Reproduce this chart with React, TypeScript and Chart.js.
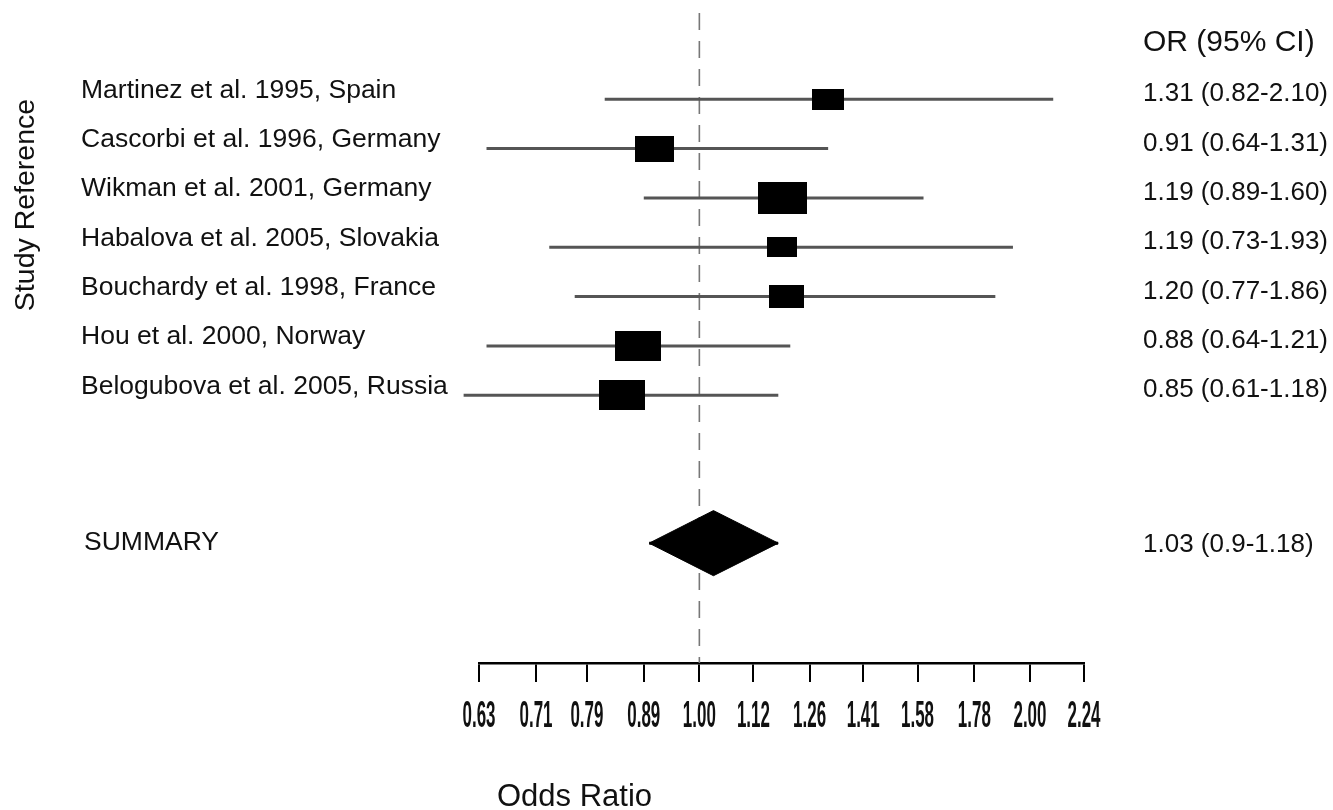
import React, { useEffect, useRef } from 'react';
import { Chart, registerables } from 'chart.js';

Chart.register(...registerables);

// ---------- data ----------
const studies = [
  'Martinez et al. 1995, Spain',
  'Cascorbi et al. 1996, Germany',
  'Wikman et al. 2001, Germany',
  'Habalova et al. 2005, Slovakia',
  'Bouchardy et al. 1998, France',
  'Hou et al. 2000, Norway',
  'Belogubova et al. 2005, Russia',
];
const oddsRatios = [1.31, 0.91, 1.19, 1.19, 1.2, 0.88, 0.85];
const ciLower = [0.82, 0.64, 0.89, 0.73, 0.77, 0.64, 0.61];
const ciUpper = [2.1, 1.31, 1.6, 1.93, 1.86, 1.21, 1.18];
const studyWeights = [8.8, 13.5, 21.2, 8.0, 10.9, 18.7, 18.9];
const orLabels = [
  '1.31 (0.82-2.10)',
  '0.91 (0.64-1.31)',
  '1.19 (0.89-1.60)',
  '1.19 (0.73-1.93)',
  '1.20 (0.77-1.86)',
  '0.88 (0.64-1.21)',
  '0.85 (0.61-1.18)',
];
const summaryName = 'SUMMARY';
const summaryOR = 1.03;
const summaryLower = 0.9;
const summaryUpper = 1.18;
const summaryLabel = '1.03 (0.9-1.18)';
const xTickValues = [0.63, 0.71, 0.79, 0.89, 1.0, 1.12, 1.26, 1.41, 1.58, 1.78, 2.0, 2.24];
const xTickLabels = ['0.63', '0.71', '0.79', '0.89', '1.00', '1.12', '1.26', '1.41', '1.58', '1.78', '2.00', '2.24'];
const headerLabel = 'OR (95% CI)';
const xTitle = 'Odds Ratio';
const yTitle = 'Study Reference';

// ---------- layout constants ----------
const W = 1333;
const H = 810;
const Y_MIN = -1.75;
const Y_MAX = 11.43;
const SUMMARY_ROW = studies.length + 2;
const DIAMOND_HALF = 0.66;
const SEAM = 0.03;
const BOX_AREA_SCALE = 7388; // px^2 for 100% weight
const BOX_ASPECT = 1.53;
const FONT = '"Liberation Sans", Arial, Helvetica, sans-serif';

function makeBox(weight: number): HTMLCanvasElement {
  const area = (weight / 100) * BOX_AREA_SCALE;
  const h = Math.sqrt(area / BOX_ASPECT);
  const w = h * BOX_ASPECT;
  const c = document.createElement('canvas');
  c.width = Math.round(w);
  c.height = Math.round(h);
  const g = c.getContext('2d')!;
  g.fillStyle = '#000';
  g.fillRect(0, 0, c.width, c.height);
  return c;
}

const textPlugin = {
  id: 'forestText',
  afterDraw(chart: any) {
    const { ctx } = chart;
    const x = chart.scales.x;
    const y = chart.scales.y;
    ctx.save();
    ctx.fillStyle = '#111';

    // study labels
    ctx.font = `26.5px ${FONT}`;
    ctx.textAlign = 'left';
    ctx.textBaseline = 'middle';
    studies.forEach((s, i) => {
      ctx.fillText(s, 81, y.getPixelForValue(i) - 9);
    });
    ctx.font = `26.5px ${FONT}`;
    ctx.fillText(summaryName, 84, y.getPixelForValue(SUMMARY_ROW));

    // right column
    ctx.font = `30px ${FONT}`;
    ctx.fillText(headerLabel, 1143, y.getPixelForValue(-1.2) + 3);
    ctx.font = `26px ${FONT}`;
    orLabels.forEach((s, i) => {
      ctx.fillText(s, 1143, y.getPixelForValue(i) - 5);
    });
    ctx.fillText(summaryLabel, 1143, y.getPixelForValue(SUMMARY_ROW) + 2);

    // x tick labels (condensed)
    ctx.font = `bold 37px "Liberation Sans Narrow", ${FONT}`;
    const sx = 33 / ctx.measureText('0.63').width;
    ctx.textAlign = 'center';
    ctx.textBaseline = 'alphabetic';
    x.ticks.forEach((t: any, i: number) => {
      const px = x.getPixelForValue(t.value);
      ctx.save();
      ctx.translate(px, x.top + 64);
      ctx.scale(sx, 1);
      ctx.fillText(xTickLabels[i] ?? String(t.value), 0, 0);
      ctx.restore();
    });

    // axis titles
    ctx.font = `31px ${FONT}`;
    ctx.textAlign = 'left';
    ctx.textBaseline = 'alphabetic';
    ctx.fillText(xTitle, 497, 806);

    ctx.save();
    ctx.translate(34, 205);
    ctx.rotate(-Math.PI / 2);
    ctx.font = `28.5px ${FONT}`;
    ctx.textAlign = 'center';
    ctx.fillText(yTitle, 0, 0);
    ctx.restore();

    ctx.restore();
  },
};

export default function App() {
  const ref = useRef<HTMLCanvasElement | null>(null);

  useEffect(() => {
    if (!ref.current) return;
    const boxes = studyWeights.map(makeBox);

    const ciSets = studies.map((_, i) => ({
      type: 'scatter' as const,
      data: [
        { x: ciLower[i], y: i },
        { x: ciUpper[i], y: i },
      ],
      showLine: true,
      borderColor: '#555',
      borderWidth: 3,
      pointRadius: 0,
      clip: false,
      order: 2,
    }));

    const chart = new Chart(ref.current, {
      type: 'scatter',
      data: {
        datasets: [
          {
            data: oddsRatios.map((v, i) => ({ x: v, y: i })),
            pointStyle: boxes as any,
            pointRadius: 3,
            showLine: false,
            clip: false,
            order: 0,
          } as any,
          {
            data: [
              { x: summaryLower, y: SUMMARY_ROW },
              { x: summaryOR, y: SUMMARY_ROW - DIAMOND_HALF },
              { x: summaryUpper, y: SUMMARY_ROW },
            ],
            showLine: true,
            borderColor: '#000',
            backgroundColor: '#000',
            borderWidth: 1,
            pointRadius: 0,
            fill: { value: SUMMARY_ROW + SEAM },
            tension: 0,
            order: 1,
          } as any,
          {
            data: [
              { x: summaryLower, y: SUMMARY_ROW },
              { x: summaryOR, y: SUMMARY_ROW + DIAMOND_HALF },
              { x: summaryUpper, y: SUMMARY_ROW },
            ],
            showLine: true,
            borderColor: '#000',
            backgroundColor: '#000',
            borderWidth: 1,
            pointRadius: 0,
            fill: { value: SUMMARY_ROW - SEAM },
            tension: 0,
            order: 1,
          } as any,
          ...ciSets,
          {
            data: [
              { x: 1, y: Y_MIN },
              { x: 1, y: Y_MAX },
            ],
            showLine: true,
            borderColor: '#777',
            borderWidth: 1.6,
            borderDash: [17, 11],
            pointRadius: 0,
            order: 3,
          } as any,
        ],
      },
      options: {
        animation: false,
        responsive: false,
        events: [],
        layout: { padding: { left: 479, right: 249, top: 13, bottom: 0 } },
        plugins: {
          legend: { display: false },
          tooltip: { enabled: false },
        },
        scales: {
          x: {
            type: 'logarithmic',
            min: xTickValues[0],
            max: xTickValues[xTickValues.length - 1],
            bounds: 'data',
            position: 'bottom',
            afterBuildTicks: (s: any) => {
              s.ticks = xTickValues.map((v) => ({ value: v }));
            },
            afterFit: (s: any) => {
              s.height = H - 663;
            },
            ticks: { display: false },
            grid: {
              display: true,
              drawOnChartArea: false,
              drawTicks: true,
              tickLength: 19,
              color: '#000',
              lineWidth: 2,
            },
            border: { display: true, color: '#000', width: 2.5 },
          } as any,
          y: {
            type: 'linear',
            reverse: true,
            min: Y_MIN,
            max: Y_MAX,
            bounds: 'data',
            display: false,
          },
        },
      },
      plugins: [textPlugin],
    });
    return () => chart.destroy();
  }, []);

  return (
    <div style={{ position: 'fixed', left: 0, top: 0, width: W, height: H, background: '#fff' }}>
      <canvas ref={ref} width={W} height={H} style={{ display: 'block' }} />
    </div>
  );
}
